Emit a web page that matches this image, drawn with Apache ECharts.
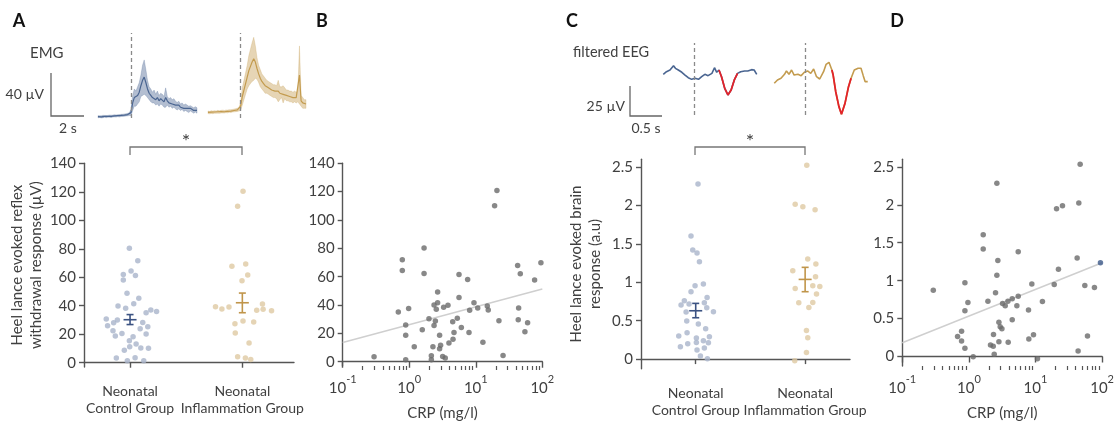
<!DOCTYPE html>
<html><head><meta charset="utf-8">
<script src="https://cdn.jsdelivr.net/npm/echarts@6/dist/echarts.min.js"></script>
<style>html,body{margin:0;padding:0;background:#fff}#c{width:1117px;height:422px}</style>
</head><body><div id="c"></div>
<script>
// ---------- data ----------
const groupNames = ['Neonatal\nControl Group', 'Neonatal\nInflammation Group'];

// Panel A: reflex withdrawal response (µV), jitter = horizontal spread of dots
const ctrlJitterA = [-0.006,0.069,0.009,-0.060,0.048,-0.060,-0.027,0.078,-0.107,0.033,-0.039,0.185,0.236,0.143,-0.212,-0.113,-0.146,0.113,-0.200,0.158,0.090,-0.152,-0.072,0.143,-0.131,0.027,-0.006,0.054,-0.003,0.096,0.164,-0.051,-0.122,0.045,-0.024,0.122];
const ctrlReflex = [80.3,71.6,64.4,62,61.3,58,48.7,45.2,39.8,41.4,38.2,37,36,35.1,30.7,30,28.1,28.3,26,25.3,23.9,22.5,20.6,20.1,18.7,18.3,15.5,13.1,11.2,10.3,10.1,8.7,3.3,3.5,1.4,1.4];
const inflJitterA = [0.006,-0.042,-0.093,0.030,0.048,-0.003,-0.239,-0.182,-0.119,0.179,0.128,0.185,0.260,-0.066,0.006,0.101,-0.063,0.060,-0.042,0.027,0.075];
const inflReflex = [120.3,109.8,67.7,69.3,61.6,57.6,39.3,37.7,39.1,41.2,36.8,37.5,36.5,27.4,29.3,28.6,20.8,13.8,4.2,3.3,2.3];
const reflexMean = [30.2, 42.1];
const reflexSemLo = [26.8, 35.1];
const reflexSemHi = [33.8, 48.9];
const reflexTicks = [0,20,40,60,80,100,120,140];

// Panel B: CRP vs reflex
const crpB = [0.296,0.685,0.787,0.787,0.885,0.885,0.885,0.98,1.19,1.57,1.67,1.67,1.98,2.27,2.15,2.15,2.36,2.36,2.47,2.55,2.67,2.67,2.86,2.86,2.96,3.18,3.48,3.29,3.82,3.95,4.5,4.55,4.71,5.28,5.6,5.6,6.07,7.55,7.91,8.09,9.4,10.7,12.8,14.9,15.4,19.2,20.8,22.3,25.7,42.6,46.7,44.1,43.5,54.8,60.1,76.6,95.3];
const reflexB = [3.5,35.1,71.9,64.4,26.0,18.7,1.4,37.5,10.5,22.5,80.3,62.3,30.4,10.5,4.2,1.4,25.5,40,28.8,37,49.2,41.7,18.7,9.1,11.7,3.7,2.6,38.4,39.8,13.3,28.3,15.9,20.6,30.7,45.4,61.6,24.1,58.1,20.6,36.3,41.7,37.9,13.8,39.3,36.5,110,120.8,29,4.4,67.9,62,37.9,29.7,21.1,27.6,57.6,69.8];
const fitCrp = [0.1, 100];
const fitReflex = [13.6, 51.3];

// Panel C: brain response (a.u)
const ctrlJitterC = [0.021,-0.043,-0.027,0.012,0.034,-0.006,0.070,-0.043,-0.104,0.104,-0.134,-0.061,0.079,0.101,-0.088,0.162,-0.082,0.024,0.091,-0.079,-0.155,0.125,0.006,0.070,-0.073,0.006,0.116,-0.140,0.079,0.012,0.043,0.107];
const ctrlBrain = [2.279,1.602,1.419,1.38,1.267,0.955,0.977,0.877,0.76,0.803,0.703,0.716,0.733,0.668,0.612,0.616,0.495,0.456,0.395,0.343,0.3,0.291,0.273,0.239,0.2,0.217,0.213,0.161,0.143,0.117,0.039,0.004];
const inflJitterC = [0.015,-0.091,-0.021,0.091,0.024,0.098,-0.113,0.095,-0.091,0.070,0.134,0.104,-0.058,0.070,0.034,0.012,0.024,0.012,-0.095];
const inflBrain = [2.522,2.014,1.984,1.944,1.302,1.237,1.15,1.072,0.92,0.955,0.946,0.846,0.733,0.738,0.673,0.373,0.278,0.087,-0.022];
const brainMean = [0.629, 1.037];
const brainSemLo = [0.538, 0.877];
const brainSemHi = [0.725, 1.194];
const brainTicks = [0,0.5,1,1.5,2,2.5];

// Panel D: CRP vs brain response
const crpD = [0.292,0.676,0.776,0.776,0.871,0.871,0.871,0.966,1.16,1.64,1.64,1.93,2.11,2.32,2.34,2.4,2.51,2.63,2.63,2.72,2.82,2.82,2.95,3.13,3.2,3.51,3.85,3.89,4.47,4.47,5.25,5.5,5.5,7.85,7.94,8.81,9.33,10.7,12.7,19.1,20.7,22.1,25.4,42.2,43.6,44.7,46.8,55,60.3,76.7,94.4];
const brainD = [0.872,0.265,0.334,0.204,0.972,0.603,0.108,0.712,-0.004,1.606,1.419,0.729,0.152,0.135,0.291,0.03,0.842,2.283,1.072,1.267,0.451,0.195,0.391,0.365,0.699,0.668,0.729,0.187,0.76,0.486,0.668,0.794,1.38,0.612,0.23,0.955,0.286,-0.03,0.725,0.95,1.949,1.15,1.988,1.298,0.074,2.023,2.535,0.937,0.269,0.911,1.237];
const highlightD = [50];
const fitBrain = [0.182, 1.237];

// log axis minor ticks
const crpMinor = [0.2,0.3,0.4,0.5,0.6,0.7,0.8,0.9,2,3,4,5,6,7,8,9,20,30,40,50,60,70,80,90];

// EMG traces (s, µV): centre and half-width of the noisy band
const emgTime = [-2,-1.9,-1.8,-1.7,-1.6,-1.5,-1.4,-1.3,-1.2,-1.1,-1,-0.9,-0.8,-0.7,-0.6,-0.5,-0.4,-0.3,-0.2,-0.1,0,0.1,0.2,0.3,0.4,0.5,0.6,0.7,0.8,0.9,1,1.1,1.2,1.3,1.4,1.5,1.6,1.7,1.8,1.9,2,2.1,2.2,2.3,2.4,2.5,2.6,2.7,2.8,2.9,3,3.1,3.2,3.3,3.4,3.5,3.6,3.7,3.8,3.9,4];
const emgCtrlMid = [-0.8,-0.7,-0.9,-0.6,-0.5,-0.7,-0.4,-0.3,-0.5,-0.2,0,-0.1,0.2,0.1,0.4,0.5,0.7,0.9,1.2,1.6,3,12,17,16,19,22,28,33,36,31,25,21,19,17,18,15,17,14,16,15,13,17,14,12,13,11,12,10,9,10,8,9,7,8,7,6,7,6,5,6,5];
const emgCtrlSpread = [1,0.8,1,1.1,0.9,1,0.8,1,1.1,0.9,1,1,0.9,1.1,1,1,1.1,1,1.2,1.3,3,7,8,7,8,9,10,14,16,12,8,6,6,5,6,5,6,5,5,5,5,9,4,4,4,4,4,3.5,3.5,3.5,3,3,3,3,3,3,2.5,2.5,2.5,2.5,2.5];
const emgInflMid = [3.3,3.0,3.5,3.2,3.6,3.4,3.8,3.5,3.9,4.0,3.8,4.2,4.1,4.5,4.4,4.8,5.0,5.3,5.6,6.2,9,18,24,30,36,42,46,50,53,50,44,39,35,32,30,28,27,26,25,24,23,23,22,23,21,22,20,21,19,19,18,18,17,18,17,18,38,14,12,11,11];
const emgInflSpread = [1.2,1.1,1.3,1.2,1.2,1.1,1.3,1.2,1.2,1.3,1.2,1.2,1.3,1.2,1.3,1.2,1.3,1.4,1.5,1.6,4,8,9,10,11,14,16,18,20,15,10,8,8,7,7,7,6,6,6,6,6,6,6,10,6,5,8,5,5,5,5,5,5,5,5,5,27,5,5,4,4];

// filtered EEG traces (s, µV)
const eegCtrlT = [-0.48,-0.43,-0.375,-0.32,-0.29,-0.245,-0.19,-0.14,-0.09,-0.036,0.016,0.07,0.12,0.17,0.22,0.28,0.32,0.355,0.39,0.43,0.48,0.53,0.58,0.63,0.68,0.73,0.79,0.84,0.9,0.94,0.98];
const eegCtrlV = [-6.1,-3.9,-2.5,1.1,-1.1,-2.5,-4.4,-6.7,-8.9,-10.3,-9.4,-10.3,-8.1,-6.1,-7.2,-5.3,-0.6,-4.4,-2.5,-8.1,-17.8,-23.3,-19.2,-10.8,-5.3,-3.9,-3.3,-3.3,-2.2,-2.5,-6.1];
const eegInflT = [-0.48,-0.43,-0.375,-0.32,-0.29,-0.25,-0.21,-0.17,-0.11,-0.06,-0.01,0.04,0.09,0.135,0.18,0.23,0.29,0.33,0.375,0.42,0.44,0.48,0.53,0.57,0.625,0.68,0.72,0.77,0.83,0.875,0.91,0.94,0.98];
const eegInflV = [-13.6,-10.8,-9.4,-6.1,-3.3,-6.1,-2.5,-6.7,-6.1,-7.2,-4.4,-3.3,-5.3,-1.7,-8.1,-10,-3.9,2.2,3.9,-2.5,-6.7,-20.6,-33,-39.4,-30.3,-16.4,-9.4,-2.5,-1.1,-1.1,-7.2,-12.2,-12.2];
const eegCtrlPeakWin = [0.39, 0.68];
const eegInflPeakWin = [0.42, 0.72];

// ---------- style ----------
const FONT = 'Lato, sans-serif';
const TXT = '#404040';
const AX = '#555';
const BLUE = '#4a6591', GOLD = '#c39b4e';
const CTRL_DOT = '#a9b4cb', INFL_DOT = '#dfc9a2';
const CTRL_MEAN = '#3b5282', INFL_MEAN = '#c0954a';

const chart = echarts.init(document.getElementById('c'), null, {renderer: 'canvas'});

const grids = [
  {left: 98, top: 33, width: 99, height: 85},      // 0 EMG ctrl
  {left: 208, top: 33, width: 98, height: 85},     // 1 EMG infl
  {left: 84, top: 163.3, width: 210, height: 203.7}, // 2 A
  {left: 342.7, top: 163.3, width: 199.6, height: 203.7}, // 3 B
  {left: 662, top: 43, width: 96, height: 72},     // 4 EEG ctrl
  {left: 773, top: 43, width: 96, height: 72},     // 5 EEG infl
  {left: 641, top: 159.3, width: 209, height: 209.4}, // 6 C
  {left: 902.3, top: 159.3, width: 200, height: 209.4} // 7 D
];

function hiddenAxis(grid, min, max) {
  return {gridIndex: grid, type: 'value', min, max, show: false, splitLine: {show: false}};
}
const axLine = {show: true, lineStyle: {color: AX, width: 1.4}};
const supLabel = {
  show: true, margin: 8, color: TXT,
  formatter: v => '{b|10}{s|' + Math.round(Math.log10(v)) + '}',
  rich: {
    b: {fontSize: 15, fontFamily: FONT, color: TXT, lineHeight: 22, verticalAlign: 'bottom'},
    s: {fontSize: 11, fontFamily: FONT, color: TXT, lineHeight: 12, verticalAlign: 'top'}
  }
};
const catLabel = {show: true, customValues: [1, 2], formatter: v => groupNames[Math.round(v) - 1], margin: 16,
  fontSize: 14, fontFamily: FONT, color: TXT, lineHeight: 17};

// axis indices: x0/y0 EMG ctrl, x1/y1 EMG infl, x2/y2 A, x3+x4/y3 B, x5/y4 EEG ctrl, x6/y5 EEG infl, x7/y6 C, x8+x9/y7 D
const xAxis = [
  hiddenAxis(0, -2, 4),
  hiddenAxis(1, -2, 4),
  {gridIndex: 2, type: 'value', min: 0.59, max: 2.46, splitLine: {show: false}, axisLine: axLine,
   axisTick: {show: true, length: 5, customValues: [1, 2], lineStyle: {color: AX, width: 1.4}},
   axisLabel: catLabel},
  {gridIndex: 3, type: 'log', logBase: 10, min: 0.1, max: 100, splitLine: {show: false}, axisLine: axLine,
   axisTick: {show: true, length: 6, lineStyle: {color: AX, width: 1.4}},
   axisLabel: supLabel,
   name: 'CRP (mg/l)', nameLocation: 'middle', nameGap: 40,
   nameTextStyle: {fontSize: 15, fontFamily: FONT, color: TXT}},
  {gridIndex: 3, type: 'log', logBase: 10, min: 0.1, max: 100, position: 'bottom', splitLine: {show: false},
   axisLine: {show: false}, axisLabel: {show: false},
   axisTick: {show: true, length: 4, customValues: crpMinor, lineStyle: {color: AX, width: 1.2}}},
  hiddenAxis(4, -0.5, 1.0),
  hiddenAxis(5, -0.5, 1.0),
  {gridIndex: 6, type: 'value', min: 0.5, max: 2.41, splitLine: {show: false}, axisLine: axLine,
   axisTick: {show: true, length: 5, customValues: [1, 2], lineStyle: {color: AX, width: 1.4}},
   axisLabel: catLabel},
  {gridIndex: 7, type: 'log', logBase: 10, min: 0.1, max: 100, splitLine: {show: false}, axisLine: axLine,
   axisTick: {show: true, length: 6, lineStyle: {color: AX, width: 1.4}},
   axisLabel: supLabel,
   name: 'CRP (mg/l)', nameLocation: 'middle', nameGap: 40,
   nameTextStyle: {fontSize: 15, fontFamily: FONT, color: TXT}},
  {gridIndex: 7, type: 'log', logBase: 10, min: 0.1, max: 100, position: 'bottom', splitLine: {show: false},
   axisLine: {show: false}, axisLabel: {show: false},
   axisTick: {show: true, length: 4, customValues: crpMinor, lineStyle: {color: AX, width: 1.2}}}
];

function valueY(grid, min, max, ticks, name, gap) {
  const o = {gridIndex: grid, type: 'value', min, max, splitLine: {show: false}, axisLine: axLine,
    axisTick: {show: true, length: 5, customValues: ticks, lineStyle: {color: AX, width: 1.4}},
    axisLabel: {show: true, customValues: ticks, formatter: v => String(v), margin: 8,
      fontSize: 15, fontFamily: FONT, color: TXT}};
  if (name) {
    o.name = name; o.nameLocation = 'middle'; o.nameGap = gap; o.nameRotate = 90;
    o.nameTextStyle = {fontSize: 15, fontFamily: FONT, color: TXT, lineHeight: 19.5};
  }
  return o;
}

const yAxis = [
  hiddenAxis(0, -2, 77),
  hiddenAxis(1, -2, 77),
  valueY(2, -3, 140, reflexTicks, 'Heel lance evoked reflex\nwithdrawal response (µV)', 38),
  valueY(3, -3, 140, reflexTicks),
  hiddenAxis(4, -40, 20),
  hiddenAxis(5, -40, 20),
  valueY(6, -0.125, 2.6, brainTicks, 'Heel lance evoked brain\nresponse (a.u)', 36),
  valueY(7, -0.125, 2.6, brainTicks)
];

const stimLine = {symbol: 'none', silent: true, label: {show: false},
  lineStyle: {type: [4, 3], color: '#8a8a8a', width: 1.3}, data: [{xAxis: 0}]};

// EMG: noisy band (mid ± spread) as one polygon through the axis scales, plus the mean line
function emgSeries(ax, mid, spread, color, bandColor) {
  return [
    {type: 'custom', xAxisIndex: ax, yAxisIndex: ax, silent: true, z: 2,
     data: emgTime.map((t, i) => [t, mid[i]]),
     renderItem: (params, api) => {
       if (params.dataIndex !== 0) return {type: 'group', children: []};
       const up = emgTime.map((t, i) => api.coord([t, mid[i] + spread[i]]));
       const lo = emgTime.map((t, i) => api.coord([t, mid[i] - spread[i]])).reverse();
       return {type: 'polygon', shape: {points: up.concat(lo)},
         style: {fill: bandColor, stroke: bandColor, lineWidth: 0.6}};
     }},
    {type: 'line', xAxisIndex: ax, yAxisIndex: ax, symbol: 'none', silent: true, z: 3,
     lineStyle: {color: color, width: 1.2}, data: emgTime.map((t, i) => [t, mid[i]]),
     markLine: stimLine}
  ];
}

function eegSeries(xi, yi, T, V, win, color) {
  return [
    {type: 'line', xAxisIndex: xi, yAxisIndex: yi, symbol: 'none', silent: true,
     lineStyle: {color: color, width: 1.6}, data: T.map((t, i) => [t, V[i]]), markLine: stimLine},
    {type: 'line', xAxisIndex: xi, yAxisIndex: yi, symbol: 'none', silent: true, z: 3,
     lineStyle: {color: '#e3232a', width: 1.8},
     data: T.map((t, i) => [t, V[i]]).filter(p => p[0] >= win[0] && p[0] <= win[1])}
  ];
}

function meanSeries(xi, yi, means, lo, hi, colors) {
  return {
    type: 'custom', xAxisIndex: xi, yAxisIndex: yi, z: 5, silent: true,
    data: means.map((m, i) => [i + 1, m, lo[i], hi[i]]),
    renderItem: (params, api) => {
      const x = api.value(0);
      const pm = api.coord([x, api.value(1)]);
      const pl = api.coord([x, api.value(2)]);
      const ph = api.coord([x, api.value(3)]);
      const c = colors[params.dataIndex];
      const st = {stroke: c, lineWidth: 1.6};
      return {type: 'group', children: [
        {type: 'line', shape: {x1: pm[0] - 6.5, y1: pm[1], x2: pm[0] + 6.5, y2: pm[1]}, style: st},
        {type: 'line', shape: {x1: pl[0], y1: pl[1], x2: ph[0], y2: ph[1]}, style: st},
        {type: 'line', shape: {x1: pl[0] - 3.5, y1: pl[1], x2: pl[0] + 3.5, y2: pl[1]}, style: st},
        {type: 'line', shape: {x1: ph[0] - 3.5, y1: ph[1], x2: ph[0] + 3.5, y2: ph[1]}, style: st}
      ]};
    }
  };
}

function strip(xi, yi, jit, vals, group, color) {
  return {type: 'scatter', xAxisIndex: xi, yAxisIndex: yi, symbolSize: 5.5, silent: true,
    itemStyle: {color: color}, data: vals.map((v, i) => [group + jit[i], v])};
}

const series = [].concat(
  emgSeries(0, emgCtrlMid, emgCtrlSpread, BLUE, 'rgba(74,101,145,0.42)'),
  emgSeries(1, emgInflMid, emgInflSpread, GOLD, 'rgba(195,155,78,0.42)'),
  [
    strip(2, 2, ctrlJitterA, ctrlReflex, 1, CTRL_DOT),
    strip(2, 2, inflJitterA, inflReflex, 2, INFL_DOT),
    meanSeries(2, 2, reflexMean, reflexSemLo, reflexSemHi, [CTRL_MEAN, INFL_MEAN]),
    {type: 'line', xAxisIndex: 3, yAxisIndex: 3, symbol: 'none', silent: true, z: 1,
     lineStyle: {color: '#cfcfcf', width: 1.5}, data: fitCrp.map((c, i) => [c, fitReflex[i]])},
    {type: 'scatter', xAxisIndex: 3, yAxisIndex: 3, symbolSize: 5.5, silent: true, z: 3,
     itemStyle: {color: '#6a6a6a'}, data: crpB.map((c, i) => [c, reflexB[i]])}
  ],
  eegSeries(5, 4, eegCtrlT, eegCtrlV, eegCtrlPeakWin, BLUE),
  eegSeries(6, 5, eegInflT, eegInflV, eegInflPeakWin, GOLD),
  [
    strip(7, 6, ctrlJitterC, ctrlBrain, 1, CTRL_DOT),
    strip(7, 6, inflJitterC, inflBrain, 2, INFL_DOT),
    meanSeries(7, 6, brainMean, brainSemLo, brainSemHi, [CTRL_MEAN, INFL_MEAN]),
    {type: 'line', xAxisIndex: 8, yAxisIndex: 7, symbol: 'none', silent: true, z: 1,
     lineStyle: {color: '#cfcfcf', width: 1.5}, data: fitCrp.map((c, i) => [c, fitBrain[i]])},
    {type: 'scatter', xAxisIndex: 8, yAxisIndex: 7, symbolSize: 5.5, silent: true, z: 3,
     data: crpD.map((c, i) => ({value: [c, brainD[i]],
       itemStyle: {color: highlightD.indexOf(i) >= 0 ? '#3d5a8a' : '#6a6a6a'}}))}
  ]
);

function txt(x, y, text, opt) {
  opt = opt || {};
  const align = opt.align || 'left';
  const va = opt.va || 'middle';
  return {type: 'text', silent: true, style: {
    text, x, y, fill: opt.color || TXT,
    font: (opt.weight || 'normal') + ' ' + (opt.size || 14) + 'px ' + FONT,
    textAlign: align, align: align, textVerticalAlign: va, verticalAlign: va
  }};
}
function poly(points, color, w) {
  return {type: 'polyline', silent: true, shape: {points},
    style: {stroke: color || '#666', lineWidth: w || 1.3, fill: null}};
}

const graphic = [
  txt(19, 21, 'A', {size: 18, weight: 'bold', color: '#111', align: 'center'}),
  txt(322, 21, 'B', {size: 18, weight: 'bold', color: '#111', align: 'center'}),
  txt(572, 21, 'C', {size: 18, weight: 'bold', color: '#111', align: 'center'}),
  txt(897, 21, 'D', {size: 18, weight: 'bold', color: '#111', align: 'center'}),
  txt(30, 53, 'EMG', {size: 15}),
  poly([[51, 73], [51, 116], [84, 116]], '#666', 1.3),
  txt(44, 94, '40 µV', {align: 'right', size: 14}),
  txt(68, 128, '2 s', {align: 'center', size: 14}),
  txt(573, 52, 'filtered EEG', {size: 14.5}),
  poly([[630, 86], [630, 116], [662, 116]], '#666', 1.3),
  txt(625, 106, '25 µV', {align: 'right', size: 14}),
  txt(646, 128, '0.5 s', {align: 'center', size: 14}),
  poly([[130, 155], [130, 147], [242, 147], [242, 155]], '#777', 1.3),
  txt(186, 142, '*', {align: 'center', size: 20}),
  poly([[695, 155], [695, 147], [805, 147], [805, 155]], '#777', 1.3),
  txt(750, 142, '*', {align: 'center', size: 20})
];

chart.setOption({
  animation: false,
  backgroundColor: '#fff',
  textStyle: {fontFamily: FONT},
  grid: grids,
  xAxis, yAxis, series, graphic
});
</script></body></html>
